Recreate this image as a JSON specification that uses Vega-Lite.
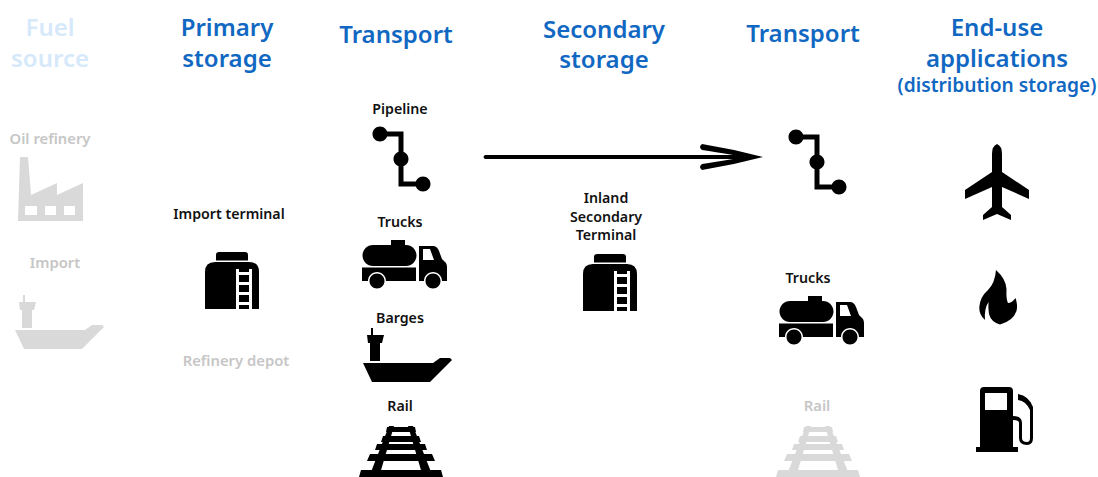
{
"$schema":"https://vega.github.io/schema/vega-lite/v6.json",
"width":1098,"height":477,
"autosize":{"type":"none"},
"padding":0,
"background":"white",
"config":{"view":{"stroke":null}},
"resolve":{"scale":{"color":"independent"}},
"datasets":{
"icons":[
{"col":50,"row":190,"icon":"factory","state":"muted"},
{"col":60,"row":322,"icon":"barge","state":"muted"},
{"col":232,"row":280,"icon":"tank","state":"active"},
{"col":401,"row":159,"icon":"pipeline","state":"active"},
{"col":404,"row":264,"icon":"truck","state":"active"},
{"col":408,"row":355,"icon":"barge","state":"active"},
{"col":401,"row":452,"icon":"rail","state":"active"},
{"col":623,"row":157,"icon":"arrow","state":"active"},
{"col":610,"row":282,"icon":"tank","state":"active"},
{"col":817,"row":162,"icon":"pipeline","state":"active"},
{"col":821,"row":320,"icon":"truck","state":"active"},
{"col":818,"row":452,"icon":"rail","state":"muted"},
{"col":997,"row":182,"icon":"plane","state":"active"},
{"col":998,"row":297,"icon":"flame","state":"active"},
{"col":1005,"row":420,"icon":"pump","state":"active"}
],
"labels":[
{"col":50,"row":36,"t":"Fuel","k":"headFaded"},
{"col":50,"row":67,"t":"source","k":"headFaded"},
{"col":227,"row":36,"t":"Primary","k":"head"},
{"col":227,"row":67,"t":"storage","k":"head"},
{"col":396,"row":43,"t":"Transport","k":"head"},
{"col":604,"row":38,"t":"Secondary","k":"head"},
{"col":604,"row":68,"t":"storage","k":"head"},
{"col":803,"row":42,"t":"Transport","k":"head"},
{"col":997,"row":36,"t":"End-use","k":"head"},
{"col":997,"row":67,"t":"applications","k":"head"},
{"col":997,"row":92,"t":"(distribution storage)","k":"sub"},
{"col":50,"row":144,"t":"Oil refinery","k":"labelMuted"},
{"col":55,"row":268,"t":"Import","k":"labelMuted"},
{"col":229,"row":219,"t":"Import terminal","k":"label"},
{"col":236,"row":366,"t":"Refinery depot","k":"labelMuted"},
{"col":400,"row":114,"t":"Pipeline","k":"label"},
{"col":400,"row":227,"t":"Trucks","k":"label"},
{"col":400,"row":323,"t":"Barges","k":"label"},
{"col":400,"row":411,"t":"Rail","k":"label"},
{"col":606,"row":203,"t":"Inland","k":"label"},
{"col":606,"row":222,"t":"Secondary","k":"label"},
{"col":606,"row":240,"t":"Terminal","k":"label"},
{"col":808,"row":283,"t":"Trucks","k":"label"},
{"col":817,"row":411,"t":"Rail","k":"labelMuted"}
]
},
"encoding":{
"x":{"field":"col","type":"quantitative","axis":null,"scale":{"domain":[0,1098],"nice":false,"zero":false}},
"y":{"field":"row","type":"quantitative","axis":null,"scale":{"domain":[477,0],"nice":false,"zero":false}}
},
"layer":[
{"data":{"name":"icons"},
"mark":{"type":"point","filled":true,"opacity":1,"strokeWidth":0,"size":4},
"encoding":{
"color":{"field":"state","type":"nominal","legend":null,"scale":{"domain":["active","muted"],"range":["#000000","#d9d9d9"]}},
"shape":{"field":"icon","type":"nominal","legend":null,"scale":{
"domain":["factory","tank","pipeline","truck","barge","rail","arrow","plane","flame","pump"],
"range":[
"M-30 -33 L-22 -33 L-19 5 L7 -7 L7 5 L33 -7 L33 31 L-32 31 Z M-25 16 L-25 25 L-13 25 L-13 16 Z M-5 16 L-5 25 L6 25 L6 16 Z M14 16 L14 25 L25 25 L25 16 Z",
"M-16 -25 Q-16 -28 -13 -28 L13 -28 Q16 -28 16 -25 L16 -19.5 L-16 -19.5 Z M-27 29 L-27 -8 Q-27 -18 -17 -18 L17 -18 Q27 -18 27 -8 L27 29 Z M4 -11 L4 29 L20 29 L20 -11 Z M7 -8 L17 -8 L17 -11 L7 -11 Z M7 -5 L17 -5 L17 2 L7 2 Z M7 5 L17 5 L17 12 L7 12 Z M7 15 L17 15 L17 22 L7 22 Z M7 25 L17 25 L17 29 L7 29 Z",
"M-21 -27.5 L2.5 -27.5 L2.5 22.5 L22 22.5 L22 27.5 L-2.5 27.5 L-2.5 -22.5 L-21 -22.5 Z M-28.5 -25 a7.5 7.5 0 1 1 15 0 a7.5 7.5 0 1 1 -15 0 Z M-7.5 0 a7.5 7.5 0 1 1 15 0 a7.5 7.5 0 1 1 -15 0 Z M14.5 25 a7.5 7.5 0 1 1 15 0 a7.5 7.5 0 1 1 -15 0 Z",
"M-31 -19 L2 -19 A10.5 10.5 0 0 1 2 2 L-31 2 A10.5 10.5 0 0 1 -31 -19 Z M-13 -24 L1 -24 L1 -19 L-13 -19 Z M-42 3.5 L12 3.5 L12 17 L-18 17 A9 9 0 0 0 -36 17 L-42 17 Z M15 -18 L29 -18 Q33 -18 35 -13 L38 -5 L42 -1 Q43 1 43 3 L43 17 L38 17 A9 9 0 0 0 20 17 L15 17 Z M19 -15 L19 -4 L30 -4 L26 -15 Z M-34.5 17 a7.5 7.5 0 1 1 15 0 a7.5 7.5 0 1 1 -15 0 Z M21.5 17 a7.5 7.5 0 1 1 15 0 a7.5 7.5 0 1 1 -15 0 Z",
"M-45 8 L25 8 L32 3 L42 3 L44 5 L22 27 L-36 27 Z M-37 -27 L-35 -27 L-35 -20 L-24 -20 L-26 -12 L-28 -12 L-28 6 L-38 6 L-38 -12 L-40 -12 L-41 -20 L-37 -20 Z",
"M-12 -26 L-7 -26 L-22 25 L-32 25 Z M7 -26 L12 -26 L32 25 L22 25 Z M-14 -25 L14 -25 L15 -20 L-15 -20 Z M-18 -16 L18 -16 L20 -10 L-20 -10 Z M-24 -8 L24 -8 L26 -2 L-26 -2 Z M-31 2 L31 2 L34 9 L-34 9 Z M-40 18 L40 18 L42 25 L-42 25 Z",
"M-138 -2 L110 -2 Q92 -5 79 -7 Q75 -10 79 -13 Q110 -8 140 0 Q110 8 79 13 Q75 10 79 7 Q92 5 110 2 L-138 2 Q-141 0 -138 -2 Z",
"M0 -38 Q5 -36 5 -28 L5 -10 L32 8 L32 17 L5 5 L5 25 L14 33 L14 38 L0 32 L-14 38 L-14 33 L-5 25 L-5 5 L-32 17 L-32 8 L-5 -10 L-5 -28 Q-5 -36 0 -38 Z",
"M-2 -27 Q8 -18 8.5 -8 Q8 2 10 6 Q14 6 17.5 1 Q20 8 18.5 14 Q15 24 2 27.5 Q-7 25 -9 17 Q-10 10 -9.5 5 Q-14 12 -13 23 Q-19 18 -18.7 10 Q-18 0 -10 -7 Q-3 -14 -2 -27 Z",
"M-25 -29 Q-25 -33 -21 -33 L4 -33 Q8 -33 8 -29 L8 27 L13 27 L13 32 L-29 32 L-29 27 L-25 27 Z M-20 -27 L-20 -10 L2 -10 L2 -27 Z M13 -26 Q24 -24 28 -13 L28 18 Q28 25 22 25 Q14 25 14 18 L14 3 Q14 0 8 0 L8 -4 Q17 -4 17 3 L17 18 Q17 22 22 22 Q25 22 25 18 L25 -10 Q21 -19 13 -20 Z"
]}}
}},
{"data":{"name":"labels"},
"mark":{"type":"text","font":"Noto Sans","fontWeight":600,"align":"center","baseline":"alphabetic"},
"encoding":{
"text":{"field":"t","type":"nominal"},
"color":{"field":"k","type":"nominal","legend":null,"scale":{"domain":["head","headFaded","sub","label","labelMuted"],"range":["#1168c2","#d6e9fb","#1168c2","#111111","#c6c6c6"]}},
"size":{"field":"k","type":"nominal","legend":null,"scale":{"type":"ordinal","domain":["head","headFaded","sub","label","labelMuted"],"range":[24,24,19.2,14.2,14.8]}}
}}
]
}
